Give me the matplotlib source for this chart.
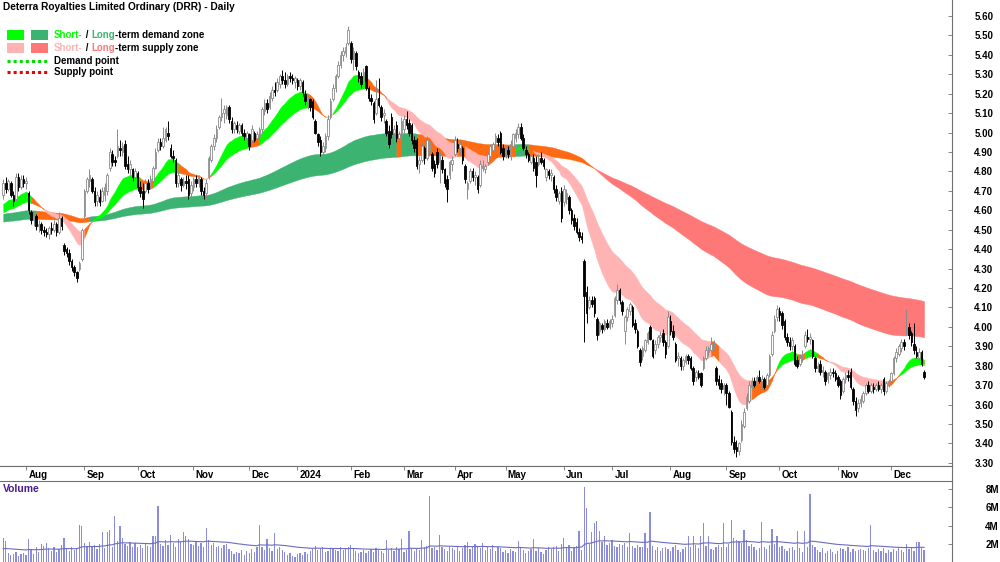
import numpy as np
import pandas as pd
import matplotlib
matplotlib.use('Agg')
from matplotlib import pyplot as plt
from matplotlib.patches import Rectangle
from matplotlib.lines import Line2D

plt.rcParams['font.family'] = ['Liberation Sans', 'DejaVu Sans']

# ASX trading days shown on the chart
holidays = ['2023-12-25', '2023-12-26', '2024-01-01', '2024-01-26',
            '2024-03-29', '2024-04-01', '2024-04-25', '2024-06-10']
dates = pd.bdate_range('2023-07-19', '2024-12-19')
dates = dates[~dates.isin(pd.to_datetime(holidays))]

month_labels = ['Aug', 'Sep', 'Oct', 'Nov', 'Dec', '2024', 'Feb', 'Mar', 'Apr',
                'May', 'Jun', 'Jul', 'Aug', 'Sep', 'Oct', 'Nov', 'Dec']

opens = [
    4.68, 4.74, 4.71, 4.74, 4.68, 4.66, 4.77, 4.72, 4.76, 4.74,
    4.69, 4.59, 4.55, 4.57, 4.52, 4.53, 4.50, 4.49, 4.48, 4.51,
    4.50, 4.53, 4.49, 4.56, 4.42, 4.40, 4.38, 4.34, 4.31, 4.28,
    4.30, 4.35, 4.57, 4.70, 4.75, 4.76, 4.70, 4.65, 4.67, 4.65,
    4.68, 4.70, 4.82, 4.89, 4.86, 4.88, 4.92, 4.90, 4.94, 4.84,
    4.81, 4.81, 4.77, 4.79, 4.72, 4.70, 4.70, 4.74, 4.72, 4.75,
    4.82, 4.91, 4.95, 4.93, 4.96, 5.00, 4.92, 4.88, 4.86, 4.74,
    4.76, 4.73, 4.75, 4.76, 4.69, 4.72, 4.76, 4.74, 4.76, 4.70,
    4.69, 4.77, 4.86, 4.93, 4.97, 5.03, 5.08, 5.10, 5.09, 5.13,
    5.06, 5.02, 5.04, 5.01, 5.04, 5.00, 4.97, 4.99, 4.96, 5.00,
    4.97, 4.98, 5.02, 5.11, 5.15, 5.13, 5.18, 5.22, 5.22, 5.25,
    5.29, 5.27, 5.25, 5.29, 5.28, 5.26, 5.27, 5.24, 5.26, 5.20,
    5.16, 5.17, 5.16, 5.06, 4.99, 4.96, 4.90, 4.92, 4.98, 5.08,
    5.17, 5.23, 5.29, 5.35, 5.40, 5.41, 5.46, 5.46, 5.38, 5.41,
    5.31, 5.29, 5.27, 5.34, 5.23, 5.18, 5.15, 5.10, 5.18, 5.13,
    5.09, 5.06, 5.01, 5.08, 5.00, 5.04, 4.97, 4.99, 5.02, 5.07,
    5.05, 5.04, 4.96, 4.96, 4.84, 4.86, 4.92, 4.87, 4.90, 4.89,
    4.84, 4.90, 4.85, 4.86, 4.81, 4.76, 4.78, 4.84, 4.89, 4.94,
    4.92, 4.92, 4.83, 4.71, 4.75, 4.80, 4.77, 4.77, 4.73, 4.82,
    4.81, 4.85, 4.88, 4.91, 4.95, 4.97, 5.00, 4.92, 4.89, 4.91,
    4.88, 4.93, 4.97, 4.99, 5.03, 4.97, 4.91, 4.89, 4.85, 4.87,
    4.85, 4.84, 4.87, 4.86, 4.77, 4.80, 4.78, 4.77, 4.71, 4.65,
    4.70, 4.64, 4.66, 4.67, 4.60, 4.56, 4.54, 4.49, 4.47, 4.34,
    4.18, 4.10, 4.14, 4.15, 4.04, 3.98, 4.01, 3.99, 4.02, 4.00,
    4.02, 4.06, 4.14, 4.19, 4.13, 3.98, 4.05, 4.08, 4.10, 4.02,
    3.98, 3.88, 3.85, 3.88, 3.92, 4.00, 3.93, 3.88, 3.91, 3.95,
    3.97, 3.92, 3.90, 4.03, 3.98, 3.91, 3.84, 3.84, 3.80, 3.82,
    3.85, 3.84, 3.79, 3.74, 3.76, 3.76, 3.79, 3.84, 3.87, 3.88,
    3.90, 3.79, 3.73, 3.71, 3.68, 3.70, 3.66, 3.56, 3.41, 3.38,
    3.36, 3.42, 3.49, 3.58, 3.62, 3.69, 3.72, 3.70, 3.74, 3.72,
    3.73, 3.70, 3.75, 3.86, 3.98, 4.05, 4.08, 4.07, 4.03, 3.95,
    3.92, 3.90, 3.90, 3.83, 3.81, 3.84, 3.90, 3.95, 3.94, 3.93,
    3.84, 3.79, 3.81, 3.77, 3.77, 3.73, 3.75, 3.77, 3.76, 3.74,
    3.72, 3.67, 3.73, 3.75, 3.77, 3.68, 3.62, 3.58, 3.61, 3.62,
    3.66, 3.70, 3.67, 3.69, 3.68, 3.70, 3.68, 3.73, 3.67, 3.70,
    3.72, 3.76, 3.84, 3.86, 3.89, 3.92, 3.98, 4.00, 3.97, 3.91,
    3.87, 3.84, 3.87, 3.77]

highs = [
    4.76, 4.77, 4.76, 4.75, 4.70, 4.79, 4.79, 4.78, 4.78, 4.77,
    4.70, 4.60, 4.59, 4.58, 4.55, 4.54, 4.52, 4.51, 4.52, 4.54,
    4.55, 4.54, 4.59, 4.57, 4.43, 4.41, 4.40, 4.35, 4.32, 4.29,
    4.34, 4.51, 4.71, 4.77, 4.81, 4.77, 4.72, 4.70, 4.71, 4.72,
    4.74, 4.79, 4.92, 4.91, 4.88, 5.02, 4.96, 4.95, 4.96, 4.88,
    4.86, 4.82, 4.82, 4.80, 4.75, 4.74, 4.76, 4.76, 4.78, 4.83,
    4.92, 4.97, 4.97, 5.03, 5.03, 5.06, 4.94, 4.91, 4.87, 4.80,
    4.77, 4.77, 4.78, 4.78, 4.75, 4.77, 4.78, 4.78, 4.77, 4.72,
    4.76, 4.88, 4.94, 4.99, 5.04, 5.09, 5.18, 5.14, 5.14, 5.14,
    5.08, 5.06, 5.06, 5.05, 5.05, 5.02, 5.01, 5.00, 5.04, 5.01,
    5.01, 5.03, 5.13, 5.17, 5.17, 5.21, 5.24, 5.26, 5.28, 5.30,
    5.32, 5.31, 5.30, 5.31, 5.30, 5.29, 5.28, 5.28, 5.27, 5.22,
    5.19, 5.18, 5.17, 5.07, 5.00, 4.98, 4.95, 5.00, 5.09, 5.18,
    5.25, 5.30, 5.37, 5.42, 5.44, 5.46, 5.55, 5.47, 5.44, 5.42,
    5.32, 5.31, 5.33, 5.35, 5.24, 5.20, 5.16, 5.27, 5.28, 5.14,
    5.12, 5.07, 5.04, 5.10, 5.04, 5.06, 5.01, 5.08, 5.09, 5.11,
    5.07, 5.05, 4.98, 4.97, 4.88, 4.95, 4.93, 4.98, 4.97, 4.90,
    4.86, 4.92, 4.90, 4.88, 4.82, 4.78, 4.86, 4.88, 4.98, 4.97,
    4.96, 4.93, 4.84, 4.75, 4.82, 4.82, 4.80, 4.78, 4.86, 4.86,
    4.84, 4.90, 4.94, 4.95, 5.00, 4.99, 5.01, 4.94, 4.93, 4.93,
    4.96, 5.00, 5.02, 5.05, 5.05, 4.99, 4.93, 4.90, 4.91, 4.89,
    4.88, 4.89, 4.90, 4.87, 4.82, 4.81, 4.81, 4.78, 4.73, 4.70,
    4.72, 4.73, 4.71, 4.68, 4.61, 4.58, 4.56, 4.51, 4.49, 4.35,
    4.21, 4.16, 4.16, 4.16, 4.05, 4.03, 4.02, 4.04, 4.04, 4.04,
    4.06, 4.16, 4.22, 4.20, 4.14, 4.06, 4.10, 4.13, 4.11, 4.04,
    3.99, 3.89, 3.90, 3.94, 3.98, 4.01, 3.94, 3.93, 3.96, 3.98,
    3.99, 3.93, 4.08, 4.06, 4.01, 3.92, 3.87, 3.85, 3.84, 3.86,
    3.86, 3.85, 3.80, 3.78, 3.78, 3.77, 3.85, 3.90, 3.90, 3.95,
    3.93, 3.80, 3.75, 3.73, 3.71, 3.71, 3.67, 3.57, 3.44, 3.42,
    3.41, 3.52, 3.58, 3.66, 3.72, 3.74, 3.74, 3.75, 3.78, 3.75,
    3.74, 3.76, 3.86, 3.98, 4.06, 4.11, 4.10, 4.08, 4.04, 3.97,
    3.95, 3.95, 3.91, 3.85, 3.86, 3.88, 3.98, 3.99, 3.97, 3.94,
    3.85, 3.82, 3.83, 3.80, 3.78, 3.77, 3.79, 3.79, 3.78, 3.75,
    3.73, 3.74, 3.77, 3.78, 3.79, 3.69, 3.64, 3.63, 3.65, 3.67,
    3.71, 3.72, 3.71, 3.71, 3.71, 3.72, 3.71, 3.74, 3.72, 3.73,
    3.77, 3.85, 3.89, 3.91, 3.94, 3.94, 4.09, 4.02, 3.98, 4.02,
    3.90, 3.89, 3.88, 3.78]

lows = [
    4.66, 4.69, 4.70, 4.67, 4.62, 4.65, 4.70, 4.71, 4.72, 4.71,
    4.58, 4.53, 4.52, 4.50, 4.49, 4.48, 4.47, 4.46, 4.45, 4.48,
    4.49, 4.47, 4.48, 4.50, 4.37, 4.36, 4.32, 4.29, 4.26, 4.23,
    4.29, 4.34, 4.56, 4.69, 4.72, 4.69, 4.62, 4.62, 4.62, 4.64,
    4.65, 4.68, 4.80, 4.83, 4.83, 4.87, 4.88, 4.88, 4.81, 4.79,
    4.78, 4.75, 4.76, 4.70, 4.67, 4.61, 4.69, 4.69, 4.71, 4.74,
    4.81, 4.90, 4.91, 4.92, 4.95, 4.96, 4.87, 4.85, 4.72, 4.72,
    4.70, 4.72, 4.71, 4.66, 4.66, 4.70, 4.72, 4.72, 4.68, 4.66,
    4.66, 4.76, 4.85, 4.91, 4.95, 5.02, 5.06, 5.05, 5.07, 5.05,
    5.00, 5.00, 5.00, 4.99, 4.98, 4.96, 4.94, 4.91, 4.95, 4.95,
    4.94, 4.96, 5.00, 5.09, 5.10, 5.12, 5.16, 5.19, 5.21, 5.23,
    5.25, 5.23, 5.24, 5.26, 5.25, 5.23, 5.22, 5.22, 5.19, 5.14,
    5.12, 5.11, 5.07, 4.99, 4.93, 4.88, 4.84, 4.90, 4.96, 5.07,
    5.16, 5.21, 5.28, 5.33, 5.37, 5.39, 5.45, 5.36, 5.32, 5.32,
    5.26, 5.23, 5.26, 5.22, 5.16, 5.14, 5.05, 5.09, 5.13, 5.06,
    5.05, 4.98, 4.92, 4.97, 4.97, 4.95, 4.93, 4.98, 5.00, 5.02,
    4.98, 4.94, 4.90, 4.81, 4.79, 4.85, 4.84, 4.86, 4.88, 4.80,
    4.77, 4.82, 4.74, 4.79, 4.72, 4.64, 4.76, 4.80, 4.88, 4.90,
    4.89, 4.84, 4.74, 4.66, 4.74, 4.75, 4.73, 4.69, 4.72, 4.80,
    4.79, 4.84, 4.87, 4.89, 4.93, 4.93, 4.89, 4.86, 4.87, 4.87,
    4.86, 4.92, 4.95, 4.97, 4.96, 4.91, 4.87, 4.85, 4.84, 4.80,
    4.72, 4.83, 4.84, 4.81, 4.75, 4.76, 4.75, 4.69, 4.65, 4.63,
    4.54, 4.62, 4.63, 4.58, 4.53, 4.50, 4.48, 4.44, 4.43, 3.92,
    4.02, 4.09, 4.10, 4.05, 3.93, 3.96, 3.97, 3.98, 3.99, 3.99,
    4.00, 4.05, 4.12, 4.12, 4.06, 3.91, 4.03, 4.06, 4.00, 3.97,
    3.89, 3.80, 3.83, 3.87, 3.91, 3.93, 3.84, 3.86, 3.89, 3.92,
    3.90, 3.84, 3.89, 3.96, 3.93, 3.82, 3.80, 3.78, 3.78, 3.81,
    3.81, 3.78, 3.70, 3.72, 3.73, 3.69, 3.78, 3.83, 3.85, 3.87,
    3.88, 3.70, 3.68, 3.66, 3.65, 3.60, 3.58, 3.39, 3.35, 3.33,
    3.34, 3.41, 3.48, 3.57, 3.61, 3.68, 3.69, 3.69, 3.71, 3.68,
    3.68, 3.69, 3.74, 3.85, 3.97, 4.03, 4.03, 3.99, 3.93, 3.90,
    3.88, 3.88, 3.80, 3.79, 3.80, 3.82, 3.89, 3.92, 3.91, 3.84,
    3.77, 3.77, 3.75, 3.74, 3.70, 3.71, 3.73, 3.74, 3.72, 3.69,
    3.63, 3.66, 3.71, 3.72, 3.68, 3.60, 3.54, 3.56, 3.59, 3.61,
    3.65, 3.66, 3.66, 3.66, 3.67, 3.67, 3.66, 3.65, 3.66, 3.69,
    3.71, 3.75, 3.82, 3.85, 3.87, 3.88, 3.96, 3.94, 3.90, 3.86,
    3.84, 3.83, 3.80, 3.73]

closes = [
    4.74, 4.71, 4.75, 4.68, 4.65, 4.77, 4.72, 4.76, 4.74, 4.75,
    4.60, 4.55, 4.57, 4.52, 4.53, 4.50, 4.49, 4.48, 4.51, 4.50,
    4.53, 4.49, 4.56, 4.52, 4.39, 4.38, 4.34, 4.31, 4.28, 4.25,
    4.33, 4.50, 4.70, 4.76, 4.78, 4.70, 4.64, 4.68, 4.64, 4.70,
    4.72, 4.78, 4.90, 4.85, 4.85, 4.93, 4.91, 4.93, 4.83, 4.81,
    4.84, 4.77, 4.80, 4.72, 4.69, 4.66, 4.74, 4.71, 4.76, 4.82,
    4.90, 4.95, 4.93, 4.97, 5.02, 4.98, 4.88, 4.87, 4.74, 4.78,
    4.73, 4.75, 4.74, 4.68, 4.73, 4.76, 4.74, 4.77, 4.70, 4.68,
    4.74, 4.87, 4.93, 4.97, 5.02, 5.08, 5.10, 5.12, 5.13, 5.07,
    5.02, 5.05, 5.02, 5.04, 5.00, 4.98, 5.00, 4.93, 5.02, 4.96,
    4.99, 5.02, 5.12, 5.15, 5.12, 5.19, 5.22, 5.21, 5.26, 5.29,
    5.27, 5.25, 5.29, 5.28, 5.27, 5.28, 5.24, 5.27, 5.21, 5.16,
    5.17, 5.13, 5.08, 5.00, 4.95, 4.90, 4.93, 4.98, 5.07, 5.16,
    5.23, 5.29, 5.35, 5.40, 5.42, 5.44, 5.53, 5.38, 5.42, 5.34,
    5.28, 5.25, 5.31, 5.23, 5.18, 5.16, 5.07, 5.17, 5.14, 5.08,
    5.10, 5.00, 4.94, 4.99, 5.02, 4.97, 4.99, 5.06, 5.07, 5.04,
    5.00, 4.96, 4.92, 4.83, 4.86, 4.93, 4.87, 4.96, 4.95, 4.82,
    4.79, 4.84, 4.88, 4.81, 4.74, 4.71, 4.85, 4.86, 4.96, 4.92,
    4.94, 4.86, 4.76, 4.74, 4.80, 4.77, 4.78, 4.71, 4.84, 4.83,
    4.83, 4.89, 4.93, 4.94, 4.98, 4.95, 4.90, 4.88, 4.91, 4.89,
    4.94, 4.99, 5.00, 5.03, 4.97, 4.92, 4.89, 4.86, 4.88, 4.82,
    4.78, 4.87, 4.85, 4.83, 4.81, 4.78, 4.79, 4.71, 4.67, 4.69,
    4.56, 4.71, 4.69, 4.60, 4.55, 4.52, 4.49, 4.46, 4.45, 4.16,
    4.07, 4.14, 4.12, 4.07, 3.96, 4.02, 3.99, 4.03, 4.00, 4.03,
    4.04, 4.15, 4.19, 4.14, 4.08, 4.05, 4.09, 4.12, 4.01, 3.99,
    3.90, 3.82, 3.89, 3.93, 3.97, 3.94, 3.85, 3.91, 3.95, 3.96,
    3.92, 3.86, 4.05, 3.98, 3.95, 3.83, 3.85, 3.80, 3.83, 3.85,
    3.83, 3.79, 3.72, 3.77, 3.74, 3.70, 3.84, 3.88, 3.89, 3.91,
    3.90, 3.72, 3.70, 3.68, 3.70, 3.66, 3.59, 3.41, 3.37, 3.36,
    3.40, 3.50, 3.56, 3.64, 3.70, 3.72, 3.70, 3.74, 3.72, 3.73,
    3.69, 3.75, 3.85, 3.96, 4.04, 4.09, 4.06, 4.01, 3.95, 3.92,
    3.90, 3.93, 3.81, 3.80, 3.84, 3.86, 3.96, 3.94, 3.95, 3.85,
    3.79, 3.80, 3.77, 3.78, 3.72, 3.76, 3.77, 3.76, 3.73, 3.70,
    3.65, 3.73, 3.75, 3.74, 3.69, 3.62, 3.57, 3.61, 3.63, 3.66,
    3.70, 3.67, 3.70, 3.68, 3.70, 3.68, 3.70, 3.67, 3.71, 3.72,
    3.76, 3.84, 3.87, 3.90, 3.92, 3.90, 4.00, 3.96, 3.92, 3.88,
    3.85, 3.87, 3.81, 3.74]

# daily volume, millions of shares
volume_m = [
    2.6, 2.3, 1.0, 0.8, 0.9, 1.1, 0.7, 0.9, 1.0, 0.8,
    2.5, 1.3, 0.9, 1.7, 1.1, 2.0, 1.8, 2.1, 1.5, 1.2,
    1.6, 1.1, 1.4, 1.9, 2.6, 1.4, 1.2, 1.6, 1.3, 1.5,
    4.1, 4.0, 2.1, 1.8, 2.2, 1.6, 1.9, 1.4, 2.0, 3.3,
    1.5, 3.3, 3.5, 1.7, 5.0, 2.3, 3.9, 2.6, 2.0, 1.8,
    2.2, 1.6, 2.1, 1.7, 1.9, 1.5, 2.0, 1.8, 1.6, 2.9,
    2.9, 6.1, 2.0, 1.8, 2.4, 1.9, 3.0, 2.1, 1.7, 2.5,
    2.2, 3.3, 2.8, 2.5, 2.0, 1.9, 2.3, 1.8, 2.1, 1.6,
    3.7, 2.4, 1.9, 2.1, 1.7, 1.8, 1.5, 1.9, 2.0, 1.4,
    1.2, 0.9, 1.1, 1.0, 1.3, 0.8, 1.2, 1.0, 1.4, 1.1,
    1.6, 4.1, 1.7, 1.3, 2.5, 1.5, 1.2, 3.2, 1.4, 1.6,
    1.3, 1.1, 0.8, 1.0, 0.7, 0.5, 0.9, 1.0, 0.8, 1.1,
    0.9, 1.2, 1.4, 1.8, 1.3, 1.5, 1.6, 1.1, 1.2, 1.4,
    1.5, 1.3, 1.2, 1.6, 1.3, 1.4, 1.7, 1.9, 1.4, 1.2,
    1.0, 1.1, 1.3, 1.0, 1.2, 1.4, 1.1, 1.5, 1.3, 1.2,
    1.0, 2.4, 1.3, 1.5, 1.2, 1.6, 1.4, 2.5, 1.1, 1.3,
    3.4, 1.5, 1.2, 1.4, 1.3, 2.4, 1.6, 1.8, 7.2, 1.5,
    1.7, 1.3, 3.0, 1.6, 1.4, 1.2, 1.6, 1.5, 1.3, 1.7,
    1.2, 1.5, 1.9, 2.2, 1.4, 1.6, 2.0, 1.8, 1.5, 2.1,
    1.3, 1.6, 1.4, 1.9, 1.2, 1.7, 1.5, 1.1, 1.3, 1.0,
    1.4, 1.2, 1.1, 2.3, 1.5, 1.3, 1.0, 1.2, 1.4, 2.5,
    1.2, 1.5, 1.1, 0.9, 1.3, 1.6, 1.4, 1.7, 1.8, 1.2,
    2.0, 2.6, 1.6, 1.9, 1.2, 1.5, 1.8, 3.4, 1.3, 8.2,
    5.9, 2.0, 3.3, 4.3, 4.5, 3.4, 2.2, 2.8, 1.9, 2.1,
    2.4, 1.8, 1.7, 2.0, 1.9, 2.1, 1.6, 3.2, 1.8, 1.5,
    1.9, 1.7, 1.6, 3.2, 1.5, 5.5, 1.8, 1.3, 1.6, 1.2,
    1.5, 1.7, 1.4, 1.2, 1.6, 1.9, 1.3, 1.1, 1.4, 1.6,
    2.8, 1.7, 2.8, 1.9, 1.5, 2.8, 4.3, 1.8, 2.8, 1.4,
    1.3, 1.6, 1.9, 1.7, 4.3, 1.6, 2.0, 4.6, 2.6, 2.4,
    2.3, 2.1, 3.5, 2.4, 1.8, 2.0, 1.6, 1.3, 1.5, 4.4,
    1.7, 1.4, 1.9, 3.6, 2.0, 2.8, 1.6, 1.8, 1.4, 1.2,
    1.5, 1.6, 1.3, 3.4, 1.5, 1.1, 3.4, 1.7, 7.5, 1.9,
    1.6, 1.3, 1.1, 1.5, 1.0, 1.2, 1.4, 1.1, 0.9, 1.2,
    1.5, 1.4, 1.2, 1.6, 1.1, 1.4, 1.2, 1.3, 1.4, 1.3,
    1.2, 1.5, 4.1, 1.3, 1.1, 1.4, 1.2, 1.5, 1.0, 1.3,
    1.1, 1.4, 1.2, 1.5, 1.3, 1.1, 2.0, 1.4, 1.6, 1.2,
    2.2, 2.2, 1.5, 1.3]

# moving-average spans of the trend zones and their values at the left edge
short_spans = (17, 35)
long_spans = (135, 230)
short_start = (4.62, 4.58)
long_start = (4.58, 4.54)
short_lookback = 4
long_lookback = 5
volume_span = 50
volume_start = 1.4

COL_SHORT_UP = '#00ff00'
COL_LONG_UP = '#3cb371'
COL_SHORT_DN = '#ffb3b3'
COL_LONG_DN = '#ff7878'
COL_MIXED = '#ff6a13'

W, H = 1000, 562


def ema(values, span, start):
    a = 2.0 / (span + 1)
    out = np.empty(len(values))
    prev = start
    for i, v in enumerate(values):
        prev = prev + a * (v - prev)
        out[i] = prev
    return out


def zone_colours(fast, fast_start, slow, up_col, dn_col, k):
    hist = np.concatenate([[fast_start] * k, fast])
    rising = fast >= hist[:-k]
    cols = []
    for f, s, r in zip(fast, slow, rising):
        if f >= s and r:
            cols.append(up_col)
        elif f < s and not r:
            cols.append(dn_col)
        else:
            cols.append(COL_MIXED)
    return cols


def draw_zone(ax, x, fast, slow, cols, zorder):
    start = 0
    n = len(x)
    for i in range(1, n + 1):
        if i == n or cols[i] != cols[start]:
            end = min(i + 1, n)
            ax.fill_between(x[start:end], fast[start:end], slow[start:end],
                            facecolor=cols[start], edgecolor=cols[start],
                            linewidth=0.3, zorder=zorder)
            start = i


def fig_xy(px, py):
    return px / W, 1 - py / H


def colour_text(fig, px, py, parts, size=7):
    r = fig.canvas.get_renderer()
    x = px
    for s, c in parts:
        fx, fy = fig_xy(x, py)
        t = fig.text(fx, fy, s, color=c, fontsize=size, fontweight='bold',
                     va='center', ha='left')
        x += t.get_window_extent(renderer=r).width


o = np.array(opens)
h = np.array(highs)
l = np.array(lows)
c = np.array(closes)
vol = np.array(volume_m) * 1e6
n = len(c)
if len(dates) != n:
    raise ValueError('date count %d != bars %d' % (len(dates), n))
x = np.arange(n)

s_fast = ema(c, short_spans[0], short_start[0])
s_slow = ema(c, short_spans[1], short_start[1])
l_fast = ema(c, long_spans[0], long_start[0])
l_slow = ema(c, long_spans[1], long_start[1])
s_cols = zone_colours(s_fast, short_start[0], s_slow, COL_SHORT_UP, COL_SHORT_DN,
                      short_lookback)
l_cols = zone_colours(l_fast, long_start[0], l_slow, COL_LONG_UP, COL_LONG_DN,
                      long_lookback)
vol_avg = ema(vol, volume_span, volume_start * 1e6)

month_pos = [i for i in range(1, n) if dates[i].month != dates[i - 1].month]

fig = plt.figure(figsize=(W / 100, H / 100), dpi=100)
ax = fig.add_axes([0, 96 / H, 0.952, 466 / H])
ax_d = fig.add_axes([0, 81 / H, 0.952, 15 / H])
ax_v = fig.add_axes([0, 0, 0.952, 81 / H])

xlim = (-1.26, 374.0)
spine_col = '#707070'

# price panel
draw_zone(ax, x, l_fast, l_slow, l_cols, 1)
draw_zone(ax, x, s_fast, s_slow, s_cols, 2)

up = c >= o
body_lo = np.minimum(o, c)
body_h = np.maximum(np.abs(c - o), 0.004)
ax.vlines(x[up], l[up], h[up], color='#8a8a8a', lw=0.7, zorder=3)
ax.vlines(x[~up], l[~up], h[~up], color='black', lw=0.7, zorder=3)
ax.bar(x[up], body_h[up], bottom=body_lo[up], width=0.62, color='white',
       edgecolor='#8a8a8a', linewidth=0.6, zorder=4)
ax.bar(x[~up], body_h[~up], bottom=body_lo[~up], width=0.62, color='black',
       edgecolor='black', linewidth=0.6, zorder=4)

ax.set_xlim(*xlim)
ax.set_ylim(3.284, 5.682)
ax.yaxis.tick_right()
yt = np.round(np.arange(3.3, 5.601, 0.1), 2)
ax.set_yticks(yt)
ax.set_yticklabels(['%.2f' % v for v in yt], fontsize=7, fontweight='bold')
ax.tick_params(axis='y', direction='in', length=3, width=0.6, pad=16,
               color=spine_col)
ax.set_xticks([])
for side in ['top', 'left']:
    ax.spines[side].set_visible(False)
for side in ['right', 'bottom']:
    ax.spines[side].set_color(spine_col)
    ax.spines[side].set_linewidth(0.8)

# date strip
ax_d.set_xlim(*xlim)
ax_d.set_ylim(0, 1)
ax_d.set_yticks([])
ax_d.set_xticks(month_pos)
ax_d.set_xticklabels([])
ax_d.tick_params(axis='x', direction='in', top=True, bottom=False, length=3,
                 width=0.6, color=spine_col)
ax_d.spines['left'].set_visible(False)
ax_d.spines['bottom'].set_visible(False)
for side in ['top', 'right']:
    ax_d.spines[side].set_color(spine_col)
    ax_d.spines[side].set_linewidth(0.8)
for pos, lab in zip(month_pos, month_labels):
    ax_d.text(pos + 0.9, 0.42, lab, fontsize=7, fontweight='bold',
              ha='left', va='center')

# volume panel
ax_v.bar(x, vol, width=0.5, color='#8c8cdc', linewidth=0, zorder=2)
ax_v.plot(x, vol_avg, color='#6b6bc4', lw=0.8, zorder=3)
ax_v.set_xlim(*xlim)
ax_v.set_ylim(0, 8.89e6)
ax_v.yaxis.tick_right()
vt = [2e6, 4e6, 6e6, 8e6]
ax_v.set_yticks(vt)
ax_v.set_yticklabels(['%dM' % (v / 1e6) for v in vt], fontsize=7,
                     fontweight='bold')
ax_v.tick_params(axis='y', direction='in', length=3, width=0.6, pad=24,
                 color=spine_col)
ax_v.set_xticks([])
for side in ['left', 'bottom']:
    ax_v.spines[side].set_visible(False)
for side in ['top', 'right']:
    ax_v.spines[side].set_color(spine_col)
    ax_v.spines[side].set_linewidth(0.8)
ax_v.text(0.003, 0.9, 'Volume', transform=ax_v.transAxes, fontsize=7.5,
          fontweight='bold', color='#4b1c8c', ha='left', va='center')

# title and legend
fx, fy = fig_xy(3, 7)
fig.text(fx, fy, 'Deterra Royalties Limited Ordinary (DRR) - Daily',
         fontsize=7.3, fontweight='bold', ha='left', va='center')

for py, c1, c2 in [(30, COL_SHORT_UP, COL_LONG_UP), (43, COL_SHORT_DN, COL_LONG_DN)]:
    for px, col in [(7, c1), (31, c2)]:
        fx, fy = fig_xy(px, py + 10)
        fig.add_artist(Rectangle((fx, fy), 17 / W, 10 / H, transform=fig.transFigure,
                                 facecolor=col, edgecolor='none'))
colour_text(fig, 54, 35, [('Short-', COL_SHORT_UP), (' / ', 'black'),
                          ('Long', COL_LONG_UP), ('-term demand zone', 'black')])
colour_text(fig, 54, 48, [('Short-', COL_SHORT_DN), (' / ', 'black'),
                          ('Long', COL_LONG_DN), ('-term supply zone', 'black')])
for py, col, lab in [(61, '#00dd00', 'Demand point'), (72, '#ee0000', 'Supply point')]:
    x0, y0 = fig_xy(7, py)
    x1, _ = fig_xy(48, py)
    fig.add_artist(Line2D([x0, x1], [y0, y0], transform=fig.transFigure, color=col,
                          lw=2.2, linestyle=(0, (1, 1))))
    fx, fy = fig_xy(54, py + 0.5)
    fig.text(fx, fy, lab, fontsize=7, fontweight='bold', ha='left', va='center')

fig.savefig('out.png', dpi=100)
